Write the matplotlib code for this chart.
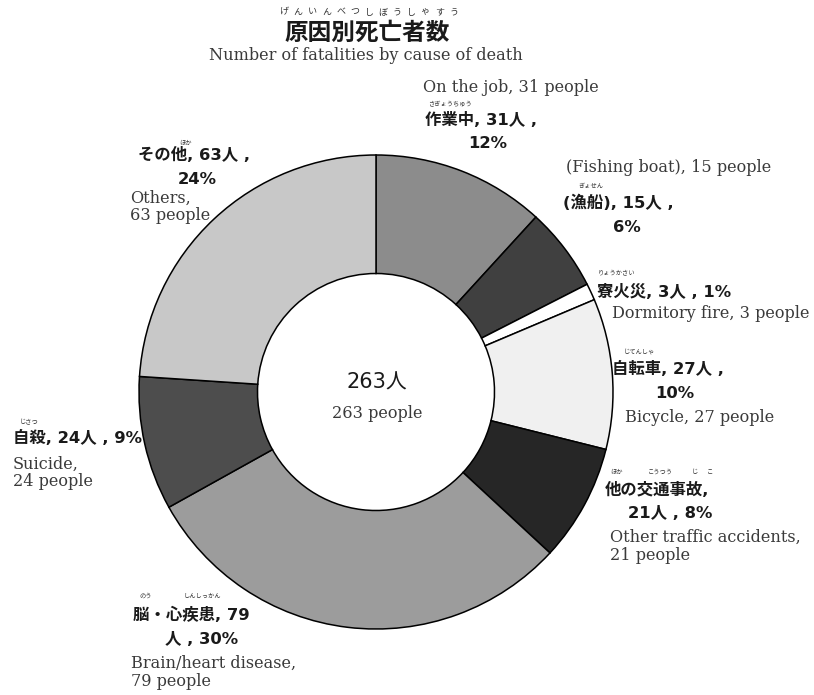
import numpy as np
import matplotlib.pyplot as plt

plt.rcParams['font.family'] = ['DejaVu Sans', 'Noto Sans CJK JP']

# data (clockwise from 12 o'clock)
causes = ['作業中', '漁船', '寮火災', '自転車', '他の交通事故', '脳・心疾患', '自殺', 'その他']
counts = [31, 15, 3, 27, 21, 79, 24, 63]
colors = ['#8c8c8c', '#404040', '#ffffff', '#f0f0f0', '#262626', '#9c9c9c', '#4d4d4d', '#c8c8c8']
total = sum(counts)
title_ruby = 'げんいんべつしぼうしゃすう'

W, H = 814, 695
fig = plt.figure(figsize=(W / 100, H / 100), dpi=100)
ax = fig.add_axes([0, 0, 1, 1])

cx, cy, R = 376, 392, 237
ax.pie(counts, colors=colors, startangle=90, counterclock=False,
       center=(cx, H - cy), radius=R, frame=True,
       wedgeprops=dict(width=R * 0.5, edgecolor='black', linewidth=1.1))
ax.set_xlim(0, W)
ax.set_ylim(0, H)
ax.set_aspect('equal')
ax.axis('off')

JP = dict(fontsize=11.8, fontweight='bold', color='#1a1a1a')
EN = dict(fontsize=11.6, family='DejaVu Serif', color='#3a3a3a')
RB = dict(fontsize=4.5, color='#333333', family='Noto Sans CJK JP')


def t(x, y, s, ha='left', **kw):
    ax.text(x, H - y, s, ha=ha, va='center', **kw)


def pct(i):
    return f'{round(100 * counts[i] / total)}%'


# title
for x, ch in zip(np.linspace(284, 454, len(title_ruby)), title_ruby):
    t(x, 12, ch, ha='center', fontsize=6.5, color='#333333', family='Noto Sans CJK JP')
t(367, 33, '原因別死亡者数', ha='center', fontsize=17, fontweight='bold', color='#1a1a1a')
t(366, 55, 'Number of fatalities by cause of death', ha='center', **EN)

# centre
t(377, 383, f'{total}人', ha='center', fontsize=15, color='#1a1a1a')
t(377, 413, f'{total} people', ha='center', **EN)

# 作業中
t(423, 88, f'On the job, {counts[0]} people', **EN)
t(428, 104, 'さぎょうちゅう', **RB)
t(425, 120, f'{causes[0]}, {counts[0]}人 ,', **JP)
t(488, 143, pct(0), ha='center', **JP)

# 漁船
t(566, 168, f'(Fishing boat), {counts[1]} people', **EN)
t(578, 186, 'ぎょせん', **RB)
t(563, 203, f'({causes[1]}), {counts[1]}人 ,', **JP)
t(627, 228, pct(1), ha='center', **JP)

# 寮火災
t(598, 272, 'りょうかさい', **RB)
t(597, 292, f'{causes[2]}, {counts[2]}人 , {pct(2)}', **JP)
t(612, 313, f'Dormitory fire, {counts[2]} people', **EN)

# 自転車
t(624, 351, 'じてんしゃ', **RB)
t(612, 369, f'{causes[3]}, {counts[3]}人 ,', **JP)
t(675, 394, pct(3), ha='center', **JP)
t(625, 418, f'Bicycle, {counts[3]} people', **EN)

# 他の交通事故
t(610, 472, 'ほか', **RB)
t(648, 472, 'こうつう', **RB)
t(692, 472, 'じ', **RB)
t(707, 472, 'こ', **RB)
t(605, 490, f'{causes[4]},', **JP)
t(628, 513, f'{counts[4]}人 , {pct(4)}', **JP)
t(610, 537, 'Other traffic accidents,', **EN)
t(610, 556, f'{counts[4]} people', **EN)

# 脳・心疾患
t(139, 596, 'のう', **RB)
t(184, 596, 'しんしっかん', **RB)
t(133, 615, f'{causes[5]}, {counts[5]}', **JP)
t(165, 640, f'人 , {pct(5)}', **JP)
t(131, 663, 'Brain/heart disease,', **EN)
t(131, 682, f'{counts[5]} people', **EN)

# 自殺
t(20, 422, 'じさつ', **RB)
t(13, 438, f'{causes[6]}, {counts[6]}人 , {pct(6)}', **JP)
t(13, 464, 'Suicide,', **EN)
t(13, 482, f'{counts[6]} people', **EN)

# その他
t(179, 143, 'ほか', **RB)
t(138, 155, f'{causes[7]}, {counts[7]}人 ,', **JP)
t(197, 180, pct(7), ha='center', **JP)
t(130, 198, 'Others,', **EN)
t(130, 216, f'{counts[7]} people', **EN)

fig.savefig('out.png', dpi=100, facecolor='white')
